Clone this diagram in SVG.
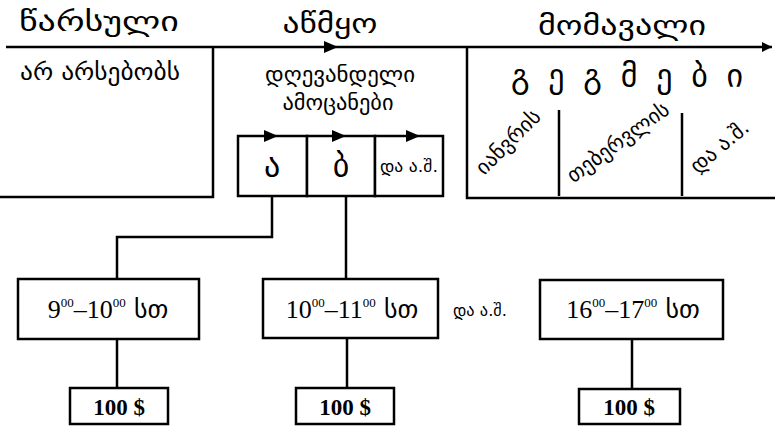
<svg xmlns="http://www.w3.org/2000/svg" width="775" height="428" viewBox="0 0 775 428">
<style>
.ln{stroke:#000;stroke-width:2.5;fill:none}
.bx{stroke:#000;stroke-width:2.5;fill:#fff}
.ge{font-family:"DejaVu Sans",sans-serif;fill:#000}
.nm{font-family:"Liberation Serif","DejaVu Sans",serif;fill:#000}
.b{font-weight:bold}
</style>
<defs>
<marker id="ah" viewBox="0 0 10 10" refX="10" refY="5" markerWidth="14" markerHeight="10" markerUnits="userSpaceOnUse" orient="auto">
<path d="M0,0 L10,5 L0,10 z" fill="#000"/>
</marker>
</defs>
<rect width="775" height="428" fill="#fff"/>

<g id="timeline">
<line class="ln" x1="6" y1="47" x2="772" y2="47" marker-end="url(#ah)"/>
<path d="M324,41 L338,47 L324,53 z" fill="#000"/>
<text class="ge" x="99" y="31" font-size="28" text-anchor="middle" textLength="160" lengthAdjust="spacingAndGlyphs">წარსული</text>
<text class="ge" x="330" y="33" font-size="28" text-anchor="middle" textLength="95" lengthAdjust="spacingAndGlyphs">აწმყო</text>
<text class="ge" x="622" y="35" font-size="28" text-anchor="middle" textLength="168" lengthAdjust="spacingAndGlyphs">მომავალი</text>
</g>

<g id="past">
<path class="ln" d="M0,197 L213,197 L213,47"/>
<text class="ge" x="100" y="80" font-size="24" text-anchor="middle" textLength="160" lengthAdjust="spacingAndGlyphs">არ არსებობს</text>
</g>

<g id="present">
<text class="ge" x="340" y="82" font-size="22" text-anchor="middle" textLength="150" lengthAdjust="spacingAndGlyphs">დღევანდელი</text>
<text class="ge" x="338" y="110" font-size="22" text-anchor="middle" textLength="111" lengthAdjust="spacingAndGlyphs">ამოცანები</text>
</g>

<g id="task-a">
<rect class="bx" x="238" y="136" width="69" height="60"/>
<path d="M264,130 L278,136 L264,142 z" fill="#000"/>
<text class="ge" x="272" y="177" font-size="32" text-anchor="middle">ა</text>
</g>
<g id="task-b">
<rect class="bx" x="307" y="136" width="68" height="60"/>
<path d="M332,130 L346,136 L332,142 z" fill="#000"/>
<text class="ge" x="341" y="177" font-size="32" text-anchor="middle">ბ</text>
</g>
<g id="task-etc">
<rect class="bx" x="375" y="136" width="68" height="60"/>
<path d="M406,130 L420,136 L406,142 z" fill="#000"/>
<text class="ge" x="409" y="172" font-size="16" text-anchor="middle" textLength="58" lengthAdjust="spacingAndGlyphs">და ა.შ.</text>
</g>

<g id="future">
<path class="ln" d="M467,47 L467,198 L775,198"/>
<line class="ln" x1="559" y1="110" x2="559" y2="196"/>
<line class="ln" x1="682" y1="113" x2="682" y2="196"/>
<text class="ge" x="627" y="87" font-size="32" text-anchor="middle" textLength="232">გ ე გ მ ე ბ ი</text>
<text class="ge" font-size="21" text-anchor="middle" transform="translate(513,147) rotate(-45)">იანვრის</text>
<text class="ge" font-size="21" text-anchor="middle" transform="translate(622,148) rotate(-36)">თებერვლის</text>
<text class="ge" font-size="21" text-anchor="middle" transform="translate(724,152) rotate(-40)">და ა.შ.</text>
</g>

<g id="connectors">
<path class="ln" d="M272,196 L272,237 L117,237 L117,279"/>
<line class="ln" x1="346" y1="196" x2="346" y2="279"/>
<line class="ln" x1="117" y1="339" x2="117" y2="388"/>
<line class="ln" x1="347" y1="338" x2="347" y2="388"/>
<line class="ln" x1="632" y1="339" x2="632" y2="389"/>
</g>

<g id="slot-1">
<rect class="bx" x="18" y="279" width="181" height="60"/>
<text class="nm" x="108" y="318" font-size="26" text-anchor="middle">9<tspan font-size="13" dy="-11">00</tspan><tspan dy="11">–10</tspan><tspan font-size="13" dy="-11">00</tspan><tspan dy="11" font-family="DejaVu Sans" font-size="26"> სთ</tspan></text>
</g>
<g id="slot-2">
<rect class="bx" x="263" y="279" width="175" height="59"/>
<text class="nm" x="352" y="318" font-size="26" text-anchor="middle">10<tspan font-size="13" dy="-11">00</tspan><tspan dy="11">–11</tspan><tspan font-size="13" dy="-11">00</tspan><tspan dy="11" font-family="DejaVu Sans" font-size="26"> სთ</tspan></text>
</g>
<text id="slot-etc" class="ge" x="480" y="316" font-size="16" text-anchor="middle" textLength="54" lengthAdjust="spacingAndGlyphs">და ა.შ.</text>
<g id="slot-3">
<rect class="bx" x="540" y="280" width="183" height="59"/>
<text class="nm" x="633" y="318" font-size="26" text-anchor="middle">16<tspan font-size="13" dy="-11">00</tspan><tspan dy="11">–17</tspan><tspan font-size="13" dy="-11">00</tspan><tspan dy="11" font-family="DejaVu Sans" font-size="26"> სთ</tspan></text>
</g>

<g id="pay-1">
<rect class="bx" x="70" y="388" width="98" height="36"/>
<text class="nm b" x="119" y="415" font-size="23" text-anchor="middle">100 $</text>
</g>
<g id="pay-2">
<rect class="bx" x="296" y="388" width="98" height="36"/>
<text class="nm b" x="345" y="415" font-size="23" text-anchor="middle">100 $</text>
</g>
<g id="pay-3">
<rect class="bx" x="579" y="389" width="101" height="35"/>
<text class="nm b" x="629" y="415" font-size="23" text-anchor="middle">100 $</text>
</g>
</svg>
